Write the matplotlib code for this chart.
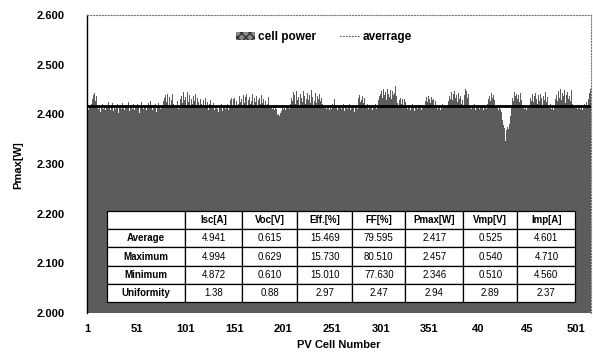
import matplotlib.pyplot as plt
from matplotlib.patches import Patch
from matplotlib.lines import Line2D

plt.rcParams['font.family'] = ['Liberation Sans', 'DejaVu Sans']

# Pmax of each PV cell, in mW (cells 1..516)
pmax_mw = [
    2414, 2409, 2418, 2412, 2420, 2431, 2438, 2443, 2427, 2436, 2419, 2411, 2416, 2405, 2413, 2421, 2410, 2417, 2408, 2415,
    2412, 2419, 2424, 2416, 2409, 2414, 2422, 2407, 2418, 2411, 2415, 2420, 2403, 2413, 2417, 2410, 2423, 2414, 2408, 2416,
    2419, 2412, 2425, 2406, 2414, 2418, 2411, 2421, 2409, 2415, 2413, 2420, 2417, 2402, 2412, 2424, 2416, 2410, 2419, 2414,
    2408, 2417, 2422, 2413, 2411, 2426, 2415, 2409, 2418, 2412, 2420, 2405, 2416, 2423, 2414, 2410, 2419, 2413, 2427, 2432,
    2438, 2425, 2441, 2418, 2434, 2412, 2429, 2440, 2421, 2416, 2413, 2419, 2426, 2410, 2417, 2431, 2437, 2422, 2444, 2428,
    2435, 2418, 2445, 2424, 2439, 2414, 2430, 2442, 2420, 2436, 2427, 2441, 2419, 2433, 2425, 2416, 2430, 2421, 2412, 2428,
    2418, 2432, 2414, 2425, 2409, 2420, 2429, 2413, 2417, 2422, 2408, 2415, 2419, 2411, 2404, 2416, 2412, 2420, 2407, 2414,
    2418, 2410, 2413, 2421, 2409, 2416, 2428, 2432, 2419, 2430, 2425, 2433, 2417, 2427, 2414, 2420, 2436, 2425, 2431, 2418,
    2438, 2422, 2434, 2440, 2417, 2429, 2435, 2421, 2426, 2441, 2419, 2432, 2424, 2437, 2415, 2428, 2433, 2420, 2439, 2423,
    2430, 2418, 2426, 2414, 2421, 2435, 2412, 2419, 2416, 2410, 2413, 2408, 2415, 2411, 2402, 2398, 2401, 2396, 2403, 2407,
    2414, 2410, 2417, 2409, 2412, 2416, 2419, 2411, 2420, 2433, 2426, 2444, 2438, 2421, 2447, 2429, 2435, 2419, 2441, 2432,
    2425, 2446, 2437, 2420, 2431, 2443, 2428, 2439, 2422, 2449, 2434, 2418, 2427, 2442, 2423, 2436, 2430, 2417, 2440, 2426,
    2433, 2421, 2415, 2412, 2419, 2410, 2416, 2413, 2409, 2418, 2411, 2420, 2414, 2431, 2417, 2412, 2408, 2415, 2419, 2413,
    2410, 2416, 2421, 2407, 2414, 2418, 2411, 2415, 2420, 2409, 2413, 2417, 2412, 2404, 2416, 2419, 2411, 2432, 2438, 2425,
    2441, 2429, 2436, 2422, 2433, 2418, 2414, 2420, 2411, 2416, 2412, 2419, 2408, 2415, 2413, 2421, 2410, 2417, 2428, 2436,
    2441, 2447, 2433, 2450, 2438, 2444, 2429, 2452, 2440, 2435, 2448, 2431, 2446, 2439, 2443, 2457, 2437, 2422, 2418, 2428,
    2433, 2420, 2431, 2426, 2419, 2430, 2424, 2415, 2411, 2418, 2413, 2409, 2416, 2420, 2412, 2406, 2414, 2417, 2410, 2415,
    2419, 2412, 2408, 2416, 2413, 2418, 2427, 2434, 2425, 2436, 2430, 2422, 2435, 2428, 2431, 2419, 2426, 2416, 2411, 2414,
    2418, 2409, 2413, 2420, 2412, 2416, 2410, 2417, 2414, 2419, 2426, 2437, 2431, 2444, 2429, 2440, 2447, 2433, 2438, 2425,
    2442, 2430, 2436, 2421, 2428, 2418, 2439, 2450, 2446, 2432, 2441, 2419, 2414, 2411, 2417, 2413, 2420, 2409, 2416, 2412,
    2418, 2410, 2415, 2413, 2419, 2408, 2414, 2417, 2411, 2416, 2420, 2431, 2437, 2426, 2442, 2433, 2439, 2428, 2416, 2412,
    2418, 2409, 2414, 2411, 2405, 2389, 2378, 2372, 2346, 2369, 2375, 2371, 2380, 2396, 2412, 2433, 2427, 2445, 2436, 2441,
    2430, 2438, 2424, 2443, 2429, 2418, 2414, 2411, 2416, 2409, 2413, 2419, 2412, 2415, 2432, 2427, 2440, 2424, 2436, 2443,
    2430, 2421, 2438, 2426, 2441, 2433, 2419, 2437, 2428, 2444, 2425, 2435, 2417, 2413, 2420, 2411, 2416, 2409, 2414, 2431,
    2438, 2426, 2447, 2433, 2450, 2429, 2442, 2436, 2448, 2423, 2439, 2445, 2431, 2437, 2427, 2449, 2434, 2421, 2415, 2419,
    2412, 2417, 2410, 2414, 2418, 2411, 2416, 2409, 2413, 2420, 2415, 2424, 2418, 2431, 2442, 2452,
]
avg_pmax = 2.417

tick_pos = [1, 51, 101, 151, 201, 251, 301, 351, 401, 451, 501]
tick_labels = ['1', '51', '101', '151', '201', '251', '301', '351', '40', '45', '501']
y_ticks = [2.0, 2.1, 2.2, 2.3, 2.4, 2.5, 2.6]

col_labels = ['', 'Isc[A]', 'Voc[V]', 'Eff.[%]', 'FF[%]', 'Pmax[W]', 'Vmp[V]', 'Imp[A]']
row_labels = ['Average', 'Maximum', 'Minimum', 'Uniformity']
avg_row = ['4.941', '0.615', '15.469', '79.595', '2.417', '0.525', '4.601']
max_row = ['4.994', '0.629', '15.730', '80.510', '2.457', '0.540', '4.710']
min_row = ['4.872', '0.610', '15.010', '77.630', '2.346', '0.510', '4.560']
unif_row = ['1.38', '0.88', '2.97', '2.47', '2.94', '2.89', '2.37']

cells = list(range(1, len(pmax_mw) + 1))
pmax = [v / 1000 for v in pmax_mw]

fig = plt.figure(figsize=(5.93, 3.52), dpi=100)
ax = fig.add_axes([0.1467, 0.1108, 0.850, 0.8466])

ax.bar(cells, pmax, width=1.0, color='#5c5c5c', linewidth=0)
ax.axhline(avg_pmax, color='black', linewidth=2)

ax.set_xlim(0.5, len(pmax_mw) + 0.5)
ax.set_ylim(2.0, 2.6)
ax.set_yticks(y_ticks)
ax.set_yticklabels(['%.3f' % t for t in y_ticks], fontsize=8, fontweight='bold')
ax.set_xticks(tick_pos)
ax.set_xticklabels(tick_labels, fontsize=8, fontweight='bold')
ax.tick_params(axis='both', length=0, pad=8)
ax.tick_params(axis='y', pad=16)

# border: solid left, dotted top/right like the scanned original
ax.spines['left'].set_linewidth(1.0)
ax.spines['bottom'].set_visible(False)
for s in ['top', 'right']:
    ax.spines[s].set_linestyle(':')
    ax.spines[s].set_color('#777777')
    ax.spines[s].set_linewidth(0.8)

fig.text(0.030, 0.53, 'Pmax[W]', rotation=90, ha='center', va='center',
         fontsize=8, fontweight='bold')
fig.text(0.572, 0.02, 'PV Cell Number', ha='center', va='center',
         fontsize=8, fontweight='bold')

handles = [Patch(facecolor='#8a8a8a', edgecolor='#333333', hatch='xxxx', linewidth=0),
           Line2D([], [], color='black', linestyle=':', linewidth=0.8)]
ax.legend(handles, ['cell power', 'averrage'], loc='center', bbox_to_anchor=(0.47, 0.926),
          ncol=2, frameon=False, handlelength=1.6, handletextpad=0.3,
          columnspacing=2.0, prop={'weight': 'bold', 'size': 8.5})

rows = [avg_row, max_row, min_row, unif_row]
cell_text = [[lab] + r for lab, r in zip(row_labels, rows)]
tab = ax.table(cellText=cell_text, colLabels=col_labels,
               colWidths=[78, 57, 55, 55, 53, 58, 54, 58],
               cellLoc='center', bbox=[0.040, 0.037, 0.929, 0.305])
tab.set_zorder(5)  # otherwise it sits under the bars
tab.auto_set_font_size(False)
tab.set_fontsize(7)
for (r, c), cell in tab.get_celld().items():
    cell.set_facecolor('white')
    cell.set_edgecolor('black')
    cell.set_linewidth(0.9)
    if r == 0 or c == 0:
        cell.get_text().set_fontweight('bold')

fig.savefig('out.png', dpi=100)
